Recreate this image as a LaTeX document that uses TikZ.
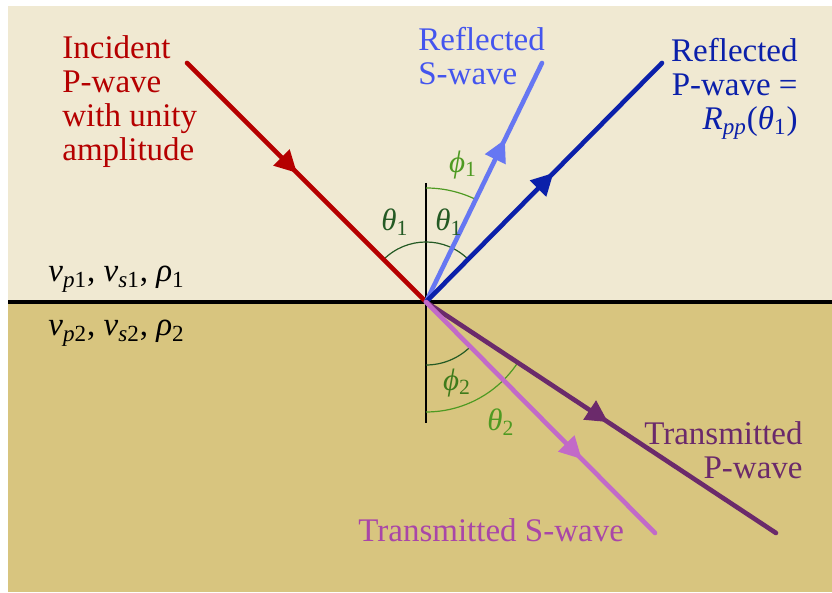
\documentclass[tikz,border=0pt]{standalone}
\usepackage{fontspec}
\setmainfont{Liberation Serif}
\usetikzlibrary{arrows.meta, decorations.markings}

% colours
\definecolor{upperbg}{HTML}{F0E9D2}
\definecolor{lowerbg}{HTML}{D8C57F}
\definecolor{incred}{HTML}{B50000}
\definecolor{reflS}{HTML}{6677F2}
\definecolor{reflStext}{HTML}{4455EE}
\definecolor{reflP}{HTML}{0B20AA}
\definecolor{transP}{HTML}{6B2A6B}
\definecolor{transS}{HTML}{C26AC8}
\definecolor{transStext}{HTML}{A946A8}
\definecolor{darkgreen}{HTML}{245A24}
\definecolor{lightgreen}{HTML}{4E9A22}

\newcommand{\vsym}[2]{\textit{#1}\textsubscript{#2}}

\tikzset{
    ray/.style={line width=2.3pt, line cap=round},
    midarrow/.style={postaction={decorate},
        decoration={markings, mark=at position #1 with {\arrow{Triangle[length=11pt,width=11pt]}}}},
    anglearc/.style={line width=0.6pt},
    wavetext/.style={font=\fontsize{16.5}{17}\selectfont, inner sep=0pt},
    angletext/.style={font=\fontsize{15.5}{15.5}\selectfont, inner sep=0pt},
}

\begin{document}
\begin{tikzpicture}[x=0.5pt, y=0.5pt]

    \useasboundingbox (0,0) rectangle (832,593);

    % ================= background layers =================
    \fill[upperbg] (8,291) rectangle (832,587);
    \fill[lowerbg] (8,1) rectangle (832,291);

    % point of incidence and ray ends
    \coordinate (O) at (426,291);
    \coordinate (inc) at (187,530);
    \coordinate (rS) at (542,530);
    \coordinate (rP) at (662,530);
    \coordinate (tP) at (776,60);
    \coordinate (tS) at (655,60);
    \coordinate (nTop) at (426,410);
    \coordinate (nBot) at (426,170);
    \coordinate (ifL) at (8,291);
    \coordinate (ifR) at (832,291);

    % interface and normal
    \draw[line width=2.4pt] (ifL) -- (ifR);
    \draw[line width=1pt] (nTop) -- (nBot);

    % ================= angle arcs =================
    \draw[anglearc, darkgreen] ([shift={(135:30pt)}]O) arc[start angle=135, end angle=45, radius=30pt];
    \draw[anglearc, lightgreen] ([shift={(90:57pt)}]O) arc[start angle=90, end angle=64.1, radius=57pt];
    \draw[anglearc, darkgreen] ([shift={(270:31.5pt)}]O) arc[start angle=270, end angle=314.8, radius=31.5pt];
    \draw[anglearc, lightgreen] ([shift={(270:55pt)}]O) arc[start angle=270, end angle=326.6, radius=55pt];

    % ================= rays =================
    \draw[ray, incred, midarrow=0.46] (inc) -- (O);
    \draw[ray, reflS, midarrow=0.68] (O) -- (rS);
    \draw[ray, reflP, midarrow=0.54] (O) -- (rP);
    \draw[ray, transP, midarrow=0.52] (O) -- (tP);
    \draw[ray, transS, midarrow=0.68] (O) -- (tS);

    % ================= labels =================
    \node[wavetext, incred, anchor=north west, align=left] (incLabel) at (62,558)
        {Incident\\P-wave\\with unity\\amplitude};
    \node[wavetext, reflStext, anchor=north west, align=left] (rSLabel) at (418,566)
        {Reflected\\S-wave};
    \node[wavetext, reflP, anchor=north east, align=right] (rPLabel) at (798,555)
        {Reflected\\P-wave =\\\textit{R}\textsubscript{\textit{pp}}(\textit{θ}\textsubscript{1})};
    \node[wavetext, transP, anchor=north east, align=right] (tPLabel) at (803,172)
        {Transmitted\\P-wave};
    \node[wavetext, transStext, anchor=base west] (tSLabel) at (358,51)
        {Transmitted S-wave};

    % layer properties
    \node[wavetext, anchor=base west] (upperProps) at (48,311)
        {\vsym{v}{\textit{p}1}, \vsym{v}{\textit{s}1}, \vsym{ρ}{1}};
    \node[wavetext, anchor=base west] (lowerProps) at (48,257)
        {\vsym{v}{\textit{p}2}, \vsym{v}{\textit{s}2}, \vsym{ρ}{2}};

    % angle names
    \node[angletext, darkgreen] (thetaInc) at (395,371) {\vsym{θ}{1}};
    \node[angletext, darkgreen] (thetaRef) at (449,371) {\vsym{θ}{1}};
    \node[angletext, lightgreen] (phiRef) at (463,428) {\vsym{ϕ}{1}};
    \node[angletext, lightgreen!80!black] (phiTra) at (457,210) {\vsym{ϕ}{2}};
    \node[angletext, lightgreen] (thetaTra) at (501,171) {\vsym{θ}{2}};

\end{tikzpicture}
\end{document}
